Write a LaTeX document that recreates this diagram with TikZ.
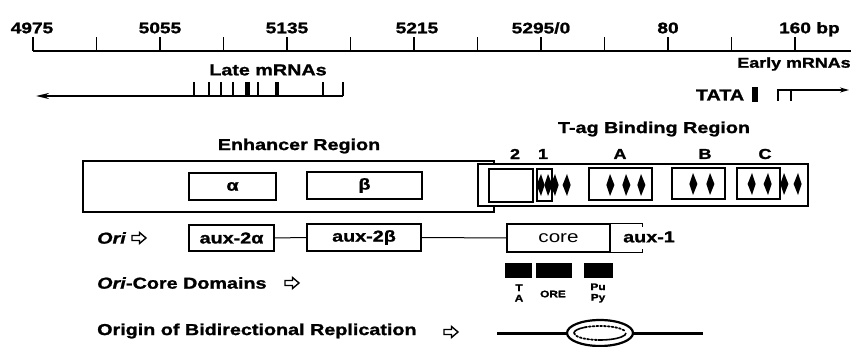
\documentclass[tikz,border=0pt]{standalone}
\usepackage{fontspec}
\setmainfont{Liberation Sans}[FakeStretch=1.25, BoldFeatures={FakeBold=1.3}, BoldItalicFeatures={FakeBold=1.3}]
\usetikzlibrary{arrows.meta}
\begin{document}
\begin{tikzpicture}[x=1pt,y=-1pt,
  lab/.style={font=\fontsize{15.8}{18}\selectfont\bfseries, inner sep=0},
  rul/.style={font=\fontsize{15.3}{18}\selectfont\bfseries, inner sep=0},
  small/.style={font=\fontsize{9.5}{10.5}\selectfont\bfseries, inner sep=0, align=center},
  bx/.style={draw, line width=1.4pt, inner sep=0},
  tbx/.style={draw, line width=1.2pt, inner sep=0},
  blk/.style={fill=black, draw=none, inner sep=0},
  tk/.style={line width=1.6pt},
  kr/.pic={\fill (0,-11) -- (4.4,0) -- (0,11) -- (-3.6,0) -- cycle;},
  kl/.pic={\fill (0,-11) -- (-4.4,0) -- (0,11) -- (3.6,0) -- cycle;},
  harrow/.pic={\draw[line width=1.4pt, line join=miter] (-7,-2.5) -- (0.5,-2.5) -- (0.5,-5.5) -- (7,0) -- (0.5,5.5) -- (0.5,2.5) -- (-7,2.5) -- cycle;}
]
\useasboundingbox (0,0) rectangle (851,347);

% ---------- ruler ----------
\coordinate (r0) at (33,51);
\coordinate (r1) at (851,51);
\draw[line width=1.8pt] (r0) -- (r1);
\foreach \i in {0,...,12} \draw[tk] (33+63.5*\i,51) -- (33+63.5*\i,37);
\node[rul] (l4975) at (32,28) {4975};
\node[rul] (l5055) at (160,28) {5055};
\node[rul] (l5135) at (287,28) {5135};
\node[rul] (l5215) at (417,28) {5215};
\node[rul] (l5295) at (541,28) {5295/0};
\node[rul] (l80) at (668,28) {80};
\node[rul] (l160) at (795,28) {160};
\node[rul, anchor=base west] (lbp) at ([xshift=5pt]l160.base east) {bp};

% ---------- late mRNAs ----------
\node[lab] (late) at (268,70) {Late mRNAs};
\coordinate (lateS) at (343,96);
\coordinate (lateE) at (36,96);
\draw[line width=2pt, -{Stealth[length=13pt,width=6pt]}] (lateS) -- (lateE);
\foreach \x in {194,209,221,233,258,323,343} \draw[line width=1.2pt] (\x,96) -- (\x,82);
\fill (245,82) rectangle (250,96);
\fill (275,82) rectangle (279,96);

% ---------- early mRNAs ----------
\node[font=\fontsize{14.3}{16}\selectfont\bfseries, inner sep=0] (early) at (794,64) {Early mRNAs};
\node[lab] (tata) at (720,95) {TATA};
\node[blk, minimum width=6pt, minimum height=15pt] (tatabox) at (755,94.5) {};
\coordinate (es) at (778,101);
\coordinate (ec) at (778,90);
\coordinate (ee) at (849,90);
\draw[line width=1.5pt, -{Stealth[length=9pt,width=5pt]}] (es) -- (ec) -- (ee);
\draw[line width=1.5pt] (791,90) -- (791,101);

% ---------- enhancer region ----------
\node[lab] (enhlab) at (299,146) {Enhancer Region};
\node[bx, minimum width=411pt, minimum height=51pt] (enh) at (288.5,186.5) {};
\node[bx, lab, minimum width=87pt, minimum height=27pt] (alpha) at (232.5,186.5) {α};
\node[bx, lab, minimum width=115pt, minimum height=27pt] (beta) at (364.5,185.5) {β};

% ---------- T-ag binding region ----------
\node[lab] (taglab) at (654,129) {T-ag Binding Region};
\node[bx, fill=white, minimum width=330pt, minimum height=42pt] (tag) at (643,185) {};
\node[lab, font=\fontsize{14.5}{16}\selectfont\bfseries] (s2) at (515,154) {2};
\node[lab, font=\fontsize{14.5}{16}\selectfont\bfseries] (s1) at (543,154) {1};
\node[lab, font=\fontsize{14.5}{16}\selectfont\bfseries] (sA) at (620,154) {A};
\node[lab, font=\fontsize{14.5}{16}\selectfont\bfseries] (sB) at (705,154) {B};
\node[lab, font=\fontsize{14.5}{16}\selectfont\bfseries] (sC) at (765,154) {C};
\node[tbx, minimum width=44pt, minimum height=33pt] (b2) at (511,185.5) {};
\node[tbx, minimum width=15pt, minimum height=32pt] (b1) at (544.5,185) {};
\node[tbx, minimum width=63pt, minimum height=32pt] (bA) at (620.5,184) {};
\node[tbx, minimum width=53pt, minimum height=31pt] (bB) at (698.5,183.5) {};
\node[tbx, minimum width=43pt, minimum height=31pt] (bC) at (758.5,183.5) {};
\pic at (541,185) {kl};
\pic at (548,185) {kr};
\pic at (555,185) {kl};
\pic at (567,185) {kl};
\pic at (610,185) {kr};
\pic at (626,185) {kr};
\pic at (641,185) {kr};
\pic at (693,184) {kr};
\pic at (710,184) {kr};
\pic at (752,184) {kl};
\pic at (768,184) {kl};
\pic at (784,184) {kr};
\pic at (798,184) {kl};

% ---------- Ori row ----------
\node[lab, font=\fontsize{15.8}{18}\selectfont\bfseries\itshape, anchor=west] (ori) at (97,238) {Ori};
\pic at (139,238) {harrow};
\node[bx, lab, minimum width=85pt, minimum height=26pt] (aux2a) at (231.5,238) {aux-2α};
\node[bx, lab, minimum width=114pt, minimum height=27pt] (aux2b) at (364,237.5) {aux-2β};
\node[bx, minimum width=103pt, minimum height=28pt, font=\fontsize{16.5}{18}\selectfont] (core) at (558.5,238) {core};
\draw[line width=1pt] (aux2a.east) -- (aux2b.west);
\draw[line width=1pt] (aux2b.east) -- (core.west);
\draw[line width=1.4pt] (core.north east) -- ++(32,0) -- ++(0,4);
\draw[line width=1.4pt] (core.south east) -- ++(32,0) -- ++(0,-4);
\node[lab] (aux1) at (649,237) {aux-1};

% ---------- Ori-core domains ----------
\node[lab, anchor=west] (ocd) at (97,283) {\textit{Ori}-Core Domains};
\pic at (292,283) {harrow};
\node[blk, minimum width=27pt, minimum height=15pt] (dTA) at (518.5,270.5) {};
\node[blk, minimum width=36pt, minimum height=15pt] (dORE) at (554,270.5) {};
\node[blk, minimum width=29pt, minimum height=15pt] (dPu) at (598.5,270.5) {};
\node[small] (tTA) at (519,293) {T\\A};
\node[small] (tORE) at (553,294) {ORE};
\node[small] (tPu) at (598,293) {Pu\\Py};

% ---------- origin of bidirectional replication ----------
\node[lab, anchor=west] (obr) at (97,331) {Origin of Bidirectional Replication};
\pic at (451,332) {harrow};
\coordinate (repL) at (497,333);
\coordinate (repR) at (703,333);
\coordinate (bub) at (600,333);
\draw[line width=3pt] (repL) -- (repR);
\draw[line width=2.2pt, fill=white] (bub) ellipse [x radius=33pt, y radius=13pt];
\draw[line width=1.6pt] (bub) ++(-26,0) arc[start angle=180, end angle=125, x radius=26pt, y radius=7pt];
\draw[line width=1.8pt, dotted, line cap=round] (bub) ++(125:26pt and 7pt) arc[start angle=125, end angle=10, x radius=26pt, y radius=7pt];
\draw[line width=1.8pt, dotted, line cap=round] (bub) ++(-26,0) arc[start angle=180, end angle=265, x radius=26pt, y radius=7pt];
\draw[line width=1.6pt] (bub) ++(265:26pt and 7pt) arc[start angle=265, end angle=360, x radius=26pt, y radius=7pt];
\end{tikzpicture}
\end{document}
